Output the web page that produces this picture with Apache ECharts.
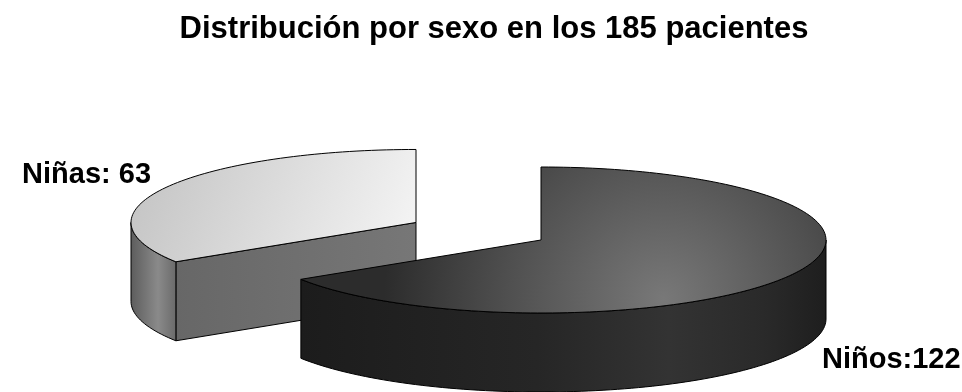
<!DOCTYPE html>
<html>
<head>
<meta charset="utf-8">
<script src="https://cdn.jsdelivr.net/npm/echarts@6/dist/echarts.min.js"></script>
<style>
html,body{margin:0;padding:0;background:#fff;}
#main{width:962px;height:392px;}
</style>
</head>
<body>
<div id="main"></div>
<script>
// ---- data ----
const titleText = 'Distribución por sexo en los 185 pacientes';
const categories = ['Niños', 'Niñas'];
const values = [122, 63];
const labelSeparators = [':', ': '];

// ---- layout / style (not data) ----
const CX = 541, CY = 240, RX = 285, RY = 73, DEPTH = 79;
const START = -Math.PI / 2;           // 12 o'clock, clockwise
const explodeFrac = [0, 0.5];
const labelOffsets = [[31, 85, 'left'], [-15, -12, 'right']];
const FONT = '"Liberation Sans", Arial, sans-serif';

const topFills = [
  new echarts.graphic.RadialGradient(0.69, 0.9, 1.9, [
    { offset: 0, color: '#787878' },
    { offset: 0.55, color: '#505050' },
    { offset: 1, color: '#2c2c2c' }
  ]),
  new echarts.graphic.LinearGradient(0, 0, 1, 1, [
    { offset: 0, color: '#c2c2c2' },
    { offset: 1, color: '#f6f6f6' }
  ])
];
const sideFills = [
  new echarts.graphic.LinearGradient(0, 0, 1, 0, [
    { offset: 0, color: '#1c1c1c' },
    { offset: 0.45, color: '#262626' },
    { offset: 0.7, color: '#333333' },
    { offset: 0.88, color: '#2a2a2a' },
    { offset: 1, color: '#1e1e1e' }
  ]),
  new echarts.graphic.LinearGradient(0, 0, 1, 0, [
    { offset: 0, color: '#5c5c5c' },
    { offset: 0.6, color: '#8a8a8a' },
    { offset: 1, color: '#6a6a6a' }
  ])
];
const cutFills = [
  new echarts.graphic.LinearGradient(0, 0, 1, 0, [
    { offset: 0, color: '#1e1e1e' },
    { offset: 1, color: '#2e2e2e' }
  ]),
  new echarts.graphic.LinearGradient(0, 0, 1, 0, [
    { offset: 0, color: '#676767' },
    { offset: 1, color: '#777777' }
  ])
];

// ---- geometry derived from data ----
const total = values.reduce((a, b) => a + b, 0);
const angles = [];
let acc = 0;
values.forEach(v => {
  const a0 = START + acc / total * 2 * Math.PI;
  acc += v;
  const a1 = START + acc / total * 2 * Math.PI;
  angles.push([a0, a1]);
});

function pt(cx, cy, t, dy) {
  return [cx + RX * Math.cos(t), cy + RY * Math.sin(t) + (dy || 0)];
}
function arc(cx, cy, a0, a1, dy) {
  const n = Math.max(2, Math.ceil(Math.abs(a1 - a0) / (2 * Math.PI) * 240));
  const pts = [];
  for (let i = 0; i <= n; i++) pts.push(pt(cx, cy, a0 + (a1 - a0) * i / n, dy));
  return pts;
}
function sliceCenter(i) {
  const [a0, a1] = angles[i];
  const m = (a0 + a1) / 2;
  const e = explodeFrac[i];
  return [CX + e * RX * Math.cos(m), CY + e * RY * Math.sin(m)];
}
// drawing order: slices further back first
const frontRank = values.map((v, i) => {
  const [a0, a1] = angles[i];
  return sliceCenter(i)[1] + RY * Math.sin((a0 + a1) / 2);
});

function renderItem(params, api) {
  const i = params.dataIndex;
  const [a0, a1] = angles[i];
  const [cx, cy] = sliceCenter(i);
  const base = frontRank.filter(r => r < frontRank[i]).length * 10;
  const stroke = { stroke: '#000', lineWidth: 1, lineJoin: 'round' };
  const children = [];

  // cut face at a0
  if (Math.cos(a0) < -1e-6) {
    const p = pt(cx, cy, a0);
    children.push({
      type: 'polygon', z2: base + 1,
      shape: { points: [[cx, cy], p, [p[0], p[1] + DEPTH], [cx, cy + DEPTH]] },
      style: Object.assign({ fill: cutFills[i] }, stroke)
    });
  }
  // cut face at a1
  if (Math.cos(a1) > 1e-6) {
    const p = pt(cx, cy, a1);
    children.push({
      type: 'polygon', z2: base + 1,
      shape: { points: [[cx, cy], p, [p[0], p[1] + DEPTH], [cx, cy + DEPTH]] },
      style: Object.assign({ fill: cutFills[i] }, stroke)
    });
  }
  // outer curved side (front half: 0..PI)
  const s0 = Math.max(a0, 0), s1 = Math.min(a1, Math.PI);
  if (s1 > s0) {
    const topArc = arc(cx, cy, s0, s1, 0);
    const botArc = arc(cx, cy, s0, s1, DEPTH).reverse();
    children.push({
      type: 'polygon', z2: base + 2,
      shape: { points: topArc.concat(botArc) },
      style: Object.assign({ fill: sideFills[i] }, stroke)
    });
  }
  // top face
  children.push({
    type: 'polygon', z2: base + 3,
    shape: { points: [[cx, cy]].concat(arc(cx, cy, a0, a1, 0)) },
    style: Object.assign({ fill: topFills[i] }, stroke)
  });
  // label
  const m = (a0 + a1) / 2;
  const anchor = pt(cx, cy, m);
  const off = labelOffsets[i];
  children.push({
    type: 'text', z2: 100,
    style: {
      text: categories[i] + labelSeparators[i] + api.value(0),
      x: anchor[0] + off[0], y: anchor[1] + off[1],
      align: off[2], verticalAlign: 'middle',
      font: 'bold 29px ' + FONT, fill: '#000'
    }
  });
  return { type: 'group', children: children };
}

const chart = echarts.init(document.getElementById('main'), null, { renderer: 'canvas' });
chart.setOption({
  backgroundColor: '#ffffff',
  animation: false,
  title: {
    text: titleText,
    left: 489, top: 9, textAlign: 'center',
    textStyle: { fontFamily: FONT, fontWeight: 'bold', fontSize: 31, color: '#000' }
  },
  series: [{
    type: 'custom',
    coordinateSystem: 'none',
    renderItem: renderItem,
    data: values.map((v, i) => ({ name: categories[i], value: [v] }))
  }]
});
</script>
</body>
</html>
